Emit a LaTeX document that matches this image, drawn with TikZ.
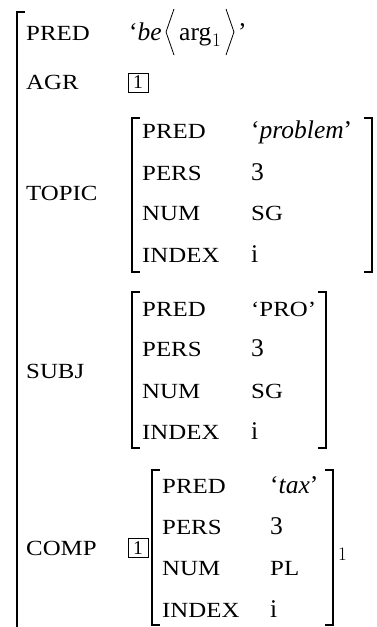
\documentclass[tikz,border=0pt]{standalone}
\usepackage{fontspec}
\setmainfont{Liberation Serif}
\newfontfamily\labfam[FakeStretch=1.15]{Liberation Serif}
\newfontfamily\cmfam{Latin Modern Roman}
\newcommand\labfont{\labfam\fontsize{21.6}{26}\selectfont}
\newcommand\valfont{\fontsize{25.5}{30}\selectfont}
\newcommand\tagfont{\fontsize{19.5}{22}\selectfont}
\newcommand\subfont{\cmfam\fontsize{19}{22}\selectfont}
\tikzset{
  lab/.style={anchor=base west, inner sep=0pt, font=\labfont},
  val/.style={anchor=base west, inner sep=0pt, font=\valfont},
  idx/.style={anchor=base west, inner sep=0pt, font=\subfont},
  tag/.style={draw, line width=0.7pt, minimum width=20pt, minimum height=19pt,
              inner sep=0pt, font=\tagfont},
  brk/.style={line width=1.5pt},
  angl/.style={line width=0.8pt, line join=miter},
}
\begin{document}
\begin{tikzpicture}[x=1pt, y=-1pt]
\useasboundingbox (0,0) rectangle (377,627);

% outer matrix: left bracket only
\draw[brk] (25,12) -- (17,12) -- (17,630);

% PRED row
\node[lab] (l-pred) at (26,40) {PRED};
\node[val] (v-be) at (129,40) {‘\textit{be}};
\draw[angl] (174,9) -- (166,32) -- (174,55);
\node[val] (v-arg) at (179,40) {arg};
\node[idx] (v-sub) at (212,46) {1};
\draw[angl] (226,9) -- (234,32) -- (226,55);
\node[val] (v-q) at (238,40) {’};

% AGR row
\node[lab] (l-agr) at (26,89) {AGR};
\node[tag] (t-agr) at (138,82.5) {1};

% TOPIC
\node[lab] (l-topic) at (26,200) {TOPIC};
\draw[brk] (140,118) -- (132,118) -- (132,272) -- (140,272);
\draw[brk] (364,118) -- (372,118) -- (372,272) -- (364,272);
\node[lab] (t-pred) at (142,138) {PRED};
\node[val] (t-predv) at (251,138) {‘\textit{problem}’};
\node[lab] (t-pers) at (142,180) {PERS};
\node[val] (t-persv) at (251,180) {3};
\node[lab] (t-num) at (142,220) {NUM};
\node[lab] (t-numv) at (251,220) {SG};
\node[lab] (t-index) at (142,262) {INDEX};
\node[val] (t-indexv) at (251,262) {i};

% SUBJ
\node[lab] (l-subj) at (26,378) {SUBJ};
\draw[brk] (140,292) -- (132,292) -- (132,448) -- (140,448);
\draw[brk] (318,292) -- (326,292) -- (326,448) -- (318,448);
\node[lab] (s-pred) at (142,316) {PRED};
\node[lab] (s-predv) at (251,316) {‘PRO’};
\node[lab] (s-pers) at (142,356) {PERS};
\node[val] (s-persv) at (251,356) {3};
\node[lab] (s-num) at (142,398) {NUM};
\node[lab] (s-numv) at (251,398) {SG};
\node[lab] (s-index) at (142,439) {INDEX};
\node[val] (s-indexv) at (251,439) {i};

% COMP
\node[lab] (l-comp) at (26,555) {COMP};
\node[tag] (t-comp) at (138,548) {1};
\draw[brk] (160,470) -- (152,470) -- (152,625) -- (160,625);
\draw[brk] (325,470) -- (333,470) -- (333,625) -- (325,625);
\node[idx] (c-idx) at (338,560) {1};
\node[lab] (c-pred) at (162,493) {PRED};
\node[val] (c-predv) at (270,493) {‘\textit{tax}’};
\node[lab] (c-pers) at (162,534) {PERS};
\node[val] (c-persv) at (270,534) {3};
\node[lab] (c-num) at (162,575) {NUM};
\node[lab] (c-numv) at (270,575) {PL};
\node[lab] (c-index) at (162,617) {INDEX};
\node[val] (c-indexv) at (270,617) {i};
\end{tikzpicture}
\end{document}
